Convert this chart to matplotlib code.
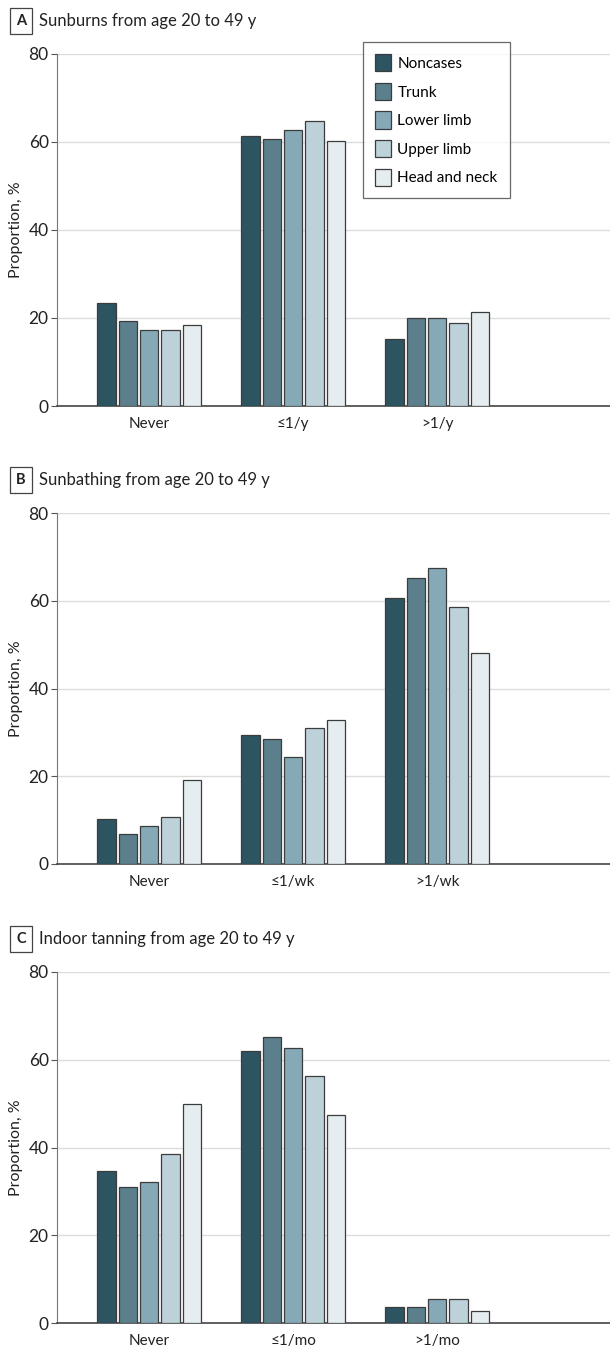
#!/usr/bin/env python

import numpy as np
import matplotlib
matplotlib.use('Agg')
from matplotlib import pyplot as plt

plt.rcParams['font.family'] = ['Lato', 'DejaVu Sans']

SERIES = ['Noncases', 'Trunk', 'Lower limb', 'Upper limb', 'Head and neck']
COLORS = ['#2d5461', '#5b7f8c', '#86a9b8', '#bcd1d9', '#e5edf0']

TITLES = ['Sunburns from age 20 to 49 y',
          'Sunbathing from age 20 to 49 y',
          'Indoor tanning from age 20 to 49 y']
LETTERS = ['A', 'B', 'C']

cats_a = ['Never', '\u22641/y', '>1/y']
cats_b = ['Never', '\u22641/wk', '>1/wk']
cats_c = ['Never', '\u22641/mo', '>1/mo']

# rows = categories, cols = series (Noncases, Trunk, Lower, Upper, Head/neck)
vals_a = [[23.5, 19.4, 17.3, 17.3, 18.5],
          [61.3, 60.6, 62.8, 64.7, 60.3],
          [15.3, 20.0, 20.0, 18.9, 21.3]]
vals_b = [[10.3, 6.8, 8.7, 10.6, 19.1],
          [29.3, 28.4, 24.3, 30.9, 32.8],
          [60.7, 65.2, 67.4, 58.5, 48.1]]
vals_c = [[34.7, 31.1, 32.1, 38.5, 49.9],
          [61.9, 65.1, 62.6, 56.3, 47.4],
          [3.6, 3.6, 5.5, 5.5, 2.7]]

panels = [(cats_a, vals_a), (cats_b, vals_b), (cats_c, vals_c)]

W, H = 610, 1365
fig = plt.figure(figsize=(W/100, H/100), dpi=100)

# axes boxes in pixels: (top, bottom)
boxes = [(54, 406), (513, 864), (972, 1323)]
left_px = 57

bw = 0.127
step = 0.148

for k, ((cats, vals), (top, bot)) in enumerate(zip(panels, boxes)):
    ax = fig.add_axes([left_px/W, 1 - bot/H, 1 - left_px/W, (bot - top)/H])
    vals = np.array(vals)
    x = np.arange(len(cats))
    for j, s in enumerate(SERIES):
        ax.bar(x + (j - 2)*step, vals[:, j], width=bw, color=COLORS[j],
               edgecolor='#3c3c3c', linewidth=0.9, label=s, zorder=3)
    ax.set_xlim(-0.64, 3.2)
    ax.set_ylim(0, 80)
    ax.set_yticks([0, 20, 40, 60, 80])
    ax.yaxis.grid(True, color='#dcdcdc', linewidth=1.0, zorder=0)
    ax.set_xticks(x)
    ax.set_xticklabels(cats, fontsize=11, color='#222222')
    ax.tick_params(axis='x', length=0, pad=8)
    ax.tick_params(axis='y', labelsize=12.5, labelcolor='#222222', length=4,
                   color='#555555', pad=2)
    for sp in ['top', 'right']:
        ax.spines[sp].set_visible(False)
    ax.spines['left'].set_color('#777777')
    ax.spines['bottom'].set_color('#444444')
    ax.spines['bottom'].set_linewidth(1.2)
    ax.set_ylabel('Proportion, %', fontsize=11.5, color='#222222', labelpad=4)

    ty = 1 - (top - 33)/H
    fig.text(21/W, ty, LETTERS[k], fontsize=10.5, fontweight='bold',
             ha='center', va='center', color='#222222',
             bbox=dict(boxstyle='square,pad=0.4', fc='white', ec='#444444', lw=0.9))
    fig.text(39/W, ty, TITLES[k], fontsize=12, ha='left', va='center', color='#222222')

    if k == 0:
        leg = ax.legend(loc='upper right', bbox_to_anchor=(0.819, 1.034),
                        fontsize=11, frameon=True, fancybox=False,
                        edgecolor='#444444', handlelength=1.05, handleheight=1.35,
                        labelspacing=0.75, handletextpad=0.4, borderpad=0.8,
                        borderaxespad=0)
        leg.get_frame().set_linewidth(0.9)

fig.savefig('out.png', dpi=100)
